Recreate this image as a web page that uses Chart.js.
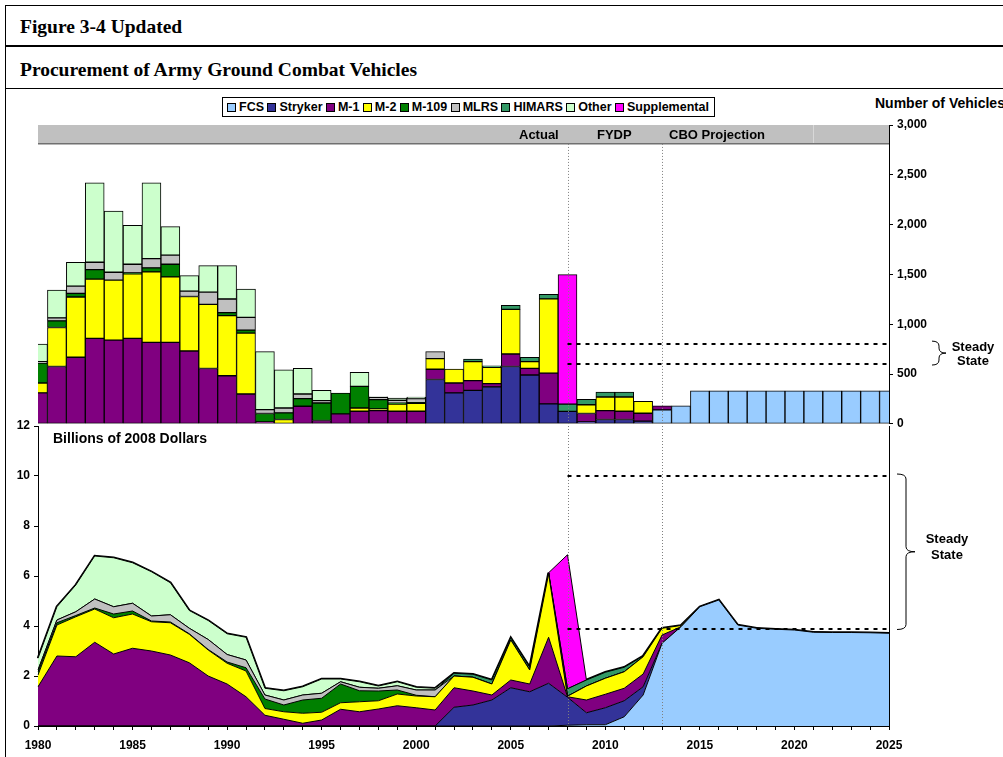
<!DOCTYPE html>
<html>
<head>
<meta charset="utf-8">
<script src="https://cdn.jsdelivr.net/npm/chart.js@4.4.0/dist/chart.umd.min.js"></script>
<style>
  body { margin: 0; width: 1003px; height: 757px; overflow: hidden; background: #fff;
         position: relative; font-family: "Liberation Sans", Arial, sans-serif; color: #000; }
  .abs { position: absolute; }
  .serif { font-family: "Liberation Serif", "Times New Roman", serif; font-weight: bold; font-size: 19.5px; line-height: 20px; white-space: nowrap; }
  .lbl { font-weight: bold; font-size: 13px; line-height: 14px; white-space: nowrap; }
  .ctr { transform: translateX(-50%); text-align: center; }
  canvas { position: absolute; left: 0; }
  #legend { position: absolute; left: 222px; top: 97px; width: 493px; height: 20px; box-sizing: border-box;
            border: 1px solid #000; display: flex; align-items: center; justify-content: space-between;
            padding: 0 5px 0 4px; font-weight: bold; font-size: 12.5px; white-space: nowrap; z-index: 3; background: #fff; }
  #legend span { display: flex; align-items: center; }
  #legend i { display: inline-block; width: 7px; height: 7px; border: 1px solid #000; margin-right: 3px; }
</style>
</head>
<body>
<!-- frame -->
<div class="abs" style="left:5px;top:5px;width:1px;height:752px;background:#000"></div>
<div class="abs" style="left:5px;top:5px;width:998px;height:1px;background:#000"></div>
<div class="abs" style="left:5px;top:45px;width:998px;height:2px;background:#000"></div>
<div class="abs" style="left:5px;top:88px;width:998px;height:1px;background:#000"></div>
<div class="abs serif" style="left:20px;top:17px">Figure 3-4 Updated</div>
<div class="abs serif" style="left:20px;top:60px">Procurement of Army Ground Combat Vehicles</div>

<div id="legend"></div>
<div class="abs lbl" style="left:875px;top:96px;font-size:14px;line-height:15px">Number of Vehicles</div>

<canvas id="top" width="1003" height="345" style="top:90px"></canvas>
<canvas id="bottom" width="1003" height="357" style="top:400px"></canvas>

<div class="abs lbl" style="left:519px;top:128px;z-index:2">Actual</div>
<div class="abs lbl" style="left:597px;top:128px;z-index:2">FYDP</div>
<div class="abs lbl" style="left:669px;top:128px;z-index:2">CBO Projection</div>
<div class="abs lbl" style="left:53px;top:431px;font-size:14px;z-index:2">Billions of 2008 Dollars</div>
<div class="abs lbl ctr" style="left:973px;top:340px;z-index:2">Steady<br>State</div>
<div class="abs lbl ctr" style="left:947px;top:531px;line-height:16px;z-index:2">Steady<br>State</div>

<script>
// categories
const years = [];
for (let y = 1980; y <= 2025; y++) years.push(y);

const seriesNames = ['FCS', 'Stryker', 'M-1', 'M-2', 'M-109', 'MLRS', 'HIMARS', 'Other', 'Supplemental'];
const seriesColors = ['#99CCFF', '#333399', '#800080', '#FFFF00', '#008000', '#C0C0C0', '#339966', '#CCFFCC', '#FF00FF'];

// number of vehicles, 1980-2025
const vehFCS = [0,0,0,0,0,0,0,0,0,0, 0,0,0,0,0,0,0,0,0,0, 0,0,0,0,0,0,0,0,0,0, 0,0,0,140,180,330,330,330,330,330, 330,330,330,330,330,330];
const vehStryker = [0,0,0,0,0,0,0,0,0,0, 0,0,0,0,0,0,0,0,0,0, 0,445,310,335,370,575,490,200,125,20, 43,43,27,0,0,0,0,0,0,0, 0,0,0,0,0,0];
const vehM1 = [310,575,668,857,840,857,817,817,731,555, 482,299,20,0,176,33,100,126,133,126, 126,103,100,99,33,126,67,309,0,83, 90,83,79,40,0,0,0,0,0,0, 0,0,0,0,0,0];
const vehM2 = [100,392,605,595,602,648,708,658,547,644, 604,611,0,43,0,0,0,33,17,73, 80,106,139,190,163,448,67,745,0,88, 136,143,120,0,0,0,0,0,0,0, 0,0,0,0,0,0];
const vehM109 = [200,66,36,96,0,10,40,127,0,0, 30,30,83,67,76,176,209,217,93,7, 5,0,0,0,0,0,0,0,0,0, 0,0,0,0,0,0,0,0,0,0, 0,0,0,0,0,0];
const vehMLRS = [15,30,73,74,80,87,93,92,54,123, 137,129,40,49,47,23,0,0,23,30, 41,70,0,0,0,0,0,0,0,0, 0,0,0,0,0,0,0,0,0,0, 0,0,0,0,0,0];
const vehHIMARS = [0,0,0,0,0,0,0,0,0,0, 0,0,0,0,0,0,0,0,0,0, 0,0,0,26,16,40,43,46,73,55, 50,50,0,0,0,0,0,0,0,0, 0,0,0,0,0,0];
const vehOther = [175,280,240,797,614,391,761,286,156,266, 335,283,581,382,259,104,0,142,5,23, 17,0,0,0,0,0,0,0,0,0, 0,0,0,0,0,0,0,0,0,0, 0,0,0,0,0,0];
const vehSupplemental = [0,0,0,0,0,0,0,0,0,0, 0,0,0,0,0,0,0,0,0,0, 0,0,0,0,0,0,0,0,1300,0, 0,0,0,0,0,0,0,0,0,0, 0,0,0,0,0,0];

// billions of 2008 dollars, 1980-2025
const usdFCS = [0,0,0,0,0,0,0,0,0,0, 0,0,0,0,0,0,0,0,0,0, 0,0,0,0,0,0,0,0,0.03,0.05, 0.05,0.37,1.24,3.31,3.97,4.77,5.04,4.04,3.91,3.87, 3.84,3.75,3.74,3.74,3.73,3.71];
const usdStryker = [0,0,0,0,0,0,0,0,0,0, 0,0,0,0,0,0,0,0,0,0, 0,0,0.75,0.84,1.04,1.53,1.37,1.71,1.12,0.48, 0.68,0.64,0.33,0,0,0,0,0,0,0, 0,0,0,0,0,0];
const usdM1 = [1.57,2.8,2.77,3.35,2.88,3.11,3.0,2.84,2.53,2.0, 1.68,1.17,0.43,0.27,0.11,0.24,0.67,0.57,0.68,0.81, 0.73,0.64,0.78,0.56,0.2,0.31,0.31,1.84,0.02,0.51, 0.54,0.5,0.51,0.33,0,0,0,0,0,0, 0,0,0,0,0,0];
const usdM2 = [0.47,1.24,1.6,1.33,1.45,1.37,1.17,1.29,1.14,1.04, 0.83,1.03,0.27,0.3,0.4,0.31,0.26,0.4,0.33,0.47, 0.47,0.53,0.47,0.55,0.44,1.6,0.56,2.53,0.02,0.56, 0.64,0.66,0.69,0.27,0.05,0,0,0,0,0, 0,0,0,0,0,0];
const usdM109 = [0.13,0.09,0.05,0.04,0.15,0.12,0.03,0.03,0.02,0.02, 0.05,0.13,0.38,0.27,0.53,0.56,0.75,0.44,0.39,0.16, 0.03,0,0,0,0,0,0,0,0,0, 0,0,0,0,0,0,0,0,0,0, 0,0,0,0,0,0];
const usdMLRS = [0.07,0.11,0.15,0.36,0.29,0.31,0.2,0.29,0.22,0.4, 0.3,0.31,0.16,0.2,0.2,0.2,0.09,0.14,0.11,0.17, 0.21,0.27,0,0,0,0,0,0,0,0, 0,0,0,0,0,0,0,0,0,0, 0,0,0,0,0,0];
const usdHIMARS = [0,0,0,0,0,0,0,0,0,0, 0,0,0,0,0,0,0,0,0,0, 0,0,0.11,0.12,0.16,0.09,0.11,0.05,0.3,0.24, 0.24,0.18,0.03,0,0,0,0,0,0,0, 0,0,0,0,0,0];
const usdOther = [0.47,0.53,1.07,1.72,1.96,1.62,1.77,1.28,0.71,0.76, 0.83,0.91,0.27,0.37,0.33,0.57,0.11,0.22,0.09,0.16, 0.11,0.07,0,0,0,0,0,0,0,0, 0,0,0,0,0,0,0,0,0,0, 0,0,0,0,0,0];
const usdSupplemental = [0,0,0,0,0,0,0,0,0,0, 0,0,0,0,0,0,0,0,0,0, 0,0,0,0,0,0,0,0,5.36,0, 0,0,0,0,0,0,0,0,0,0, 0,0,0,0,0,0];

const phaseYears = [2008, 2013];     // Actual | FYDP | CBO Projection
const bandDividerYear = 2021;
const steadyVehicles = [600, 800];
const steadyDollars = [3.9, 10];

const vehSeries = [vehFCS, vehStryker, vehM1, vehM2, vehM109, vehMLRS, vehHIMARS, vehOther, vehSupplemental];
const usdSeries = [usdFCS, usdStryker, usdM1, usdM2, usdM109, usdMLRS, usdHIMARS, usdOther, usdSupplemental];

// legend
const legendBox = document.getElementById('legend');
seriesNames.forEach((n, i) => {
  const s = document.createElement('span');
  s.innerHTML = '<i style="background:' + seriesColors[i] + '"></i>' + n;
  legendBox.appendChild(s);
});

const tickFont = { family: '"Liberation Sans", Arial, sans-serif', size: 12, weight: 'bold' };

function drawBrace(ctx, x, y1, y2, w) {
  const ym = (y1 + y2) / 2, xs = x + w / 2, r = Math.min(5, (y2 - y1) / 4);
  ctx.beginPath();
  ctx.moveTo(x, y1);
  ctx.quadraticCurveTo(xs, y1, xs, y1 + r);
  ctx.lineTo(xs, ym - r);
  ctx.quadraticCurveTo(xs, ym, x + w, ym);
  ctx.quadraticCurveTo(xs, ym, xs, ym + r);
  ctx.lineTo(xs, y2 - r);
  ctx.quadraticCurveTo(xs, y2, x, y2);
  ctx.stroke();
}

const annotate = {
  id: 'annotate',
  beforeDatasetsDraw(chart, args, opts) {
    if (!opts.band) return;
    const { ctx, chartArea: a, scales: { x, y } } = chart;
    const yb = Math.round(y.getPixelForValue(opts.band));
    ctx.save();
    ctx.fillStyle = '#C0C0C0';
    ctx.fillRect(a.left, a.top, a.right - a.left, yb - a.top);
    ctx.fillStyle = '#707070';
    ctx.fillRect(a.left, yb - 1, a.right - a.left, 1.5);
    const xd = Math.round(x.getPixelForValue(years.indexOf(bandDividerYear))) + 0.5;
    ctx.strokeStyle = '#D8D8D8';
    ctx.lineWidth = 1;
    ctx.beginPath(); ctx.moveTo(xd, a.top); ctx.lineTo(xd, yb - 1); ctx.stroke();
    ctx.restore();
  },
  afterDatasetsDraw(chart, args, opts) {
    const { ctx, chartArea: a, scales: { x, y } } = chart;
    ctx.save();
    if (opts.outline) {
      // redraw the top series line so the outer envelope sits above all fills
      ctx.save();
      ctx.beginPath();
      ctx.rect(a.left - 1, a.top - 2, a.right - a.left + 2, a.bottom - a.top + 2);
      ctx.clip();
      chart.getDatasetMeta(chart.data.datasets.length - 1).dataset.draw(ctx, a);
      ctx.restore();
    }
    const top = opts.band ? y.getPixelForValue(opts.band) : a.top;
    ctx.strokeStyle = '#808080';
    ctx.lineWidth = 1;
    ctx.setLineDash([1, 2]);
    phaseYears.forEach(yr => {
      const px = Math.round(x.getPixelForValue(years.indexOf(yr))) + 0.5;
      ctx.beginPath(); ctx.moveTo(px, top); ctx.lineTo(px, a.bottom); ctx.stroke();
    });
    // steady state levels
    const x0 = x.getPixelForValue(years.indexOf(phaseYears[0]));
    ctx.strokeStyle = '#000';
    ctx.lineWidth = 2;
    ctx.setLineDash([4, 5]);
    opts.steady.forEach(v => {
      const py = Math.round(y.getPixelForValue(v));
      ctx.beginPath(); ctx.moveTo(x0, py); ctx.lineTo(a.right, py); ctx.stroke();
    });
    ctx.setLineDash([]);
    ctx.lineWidth = 1;
    const y1 = y.getPixelForValue(Math.max(...opts.steady)) - opts.braceExtra;
    const y2 = y.getPixelForValue(Math.min(...opts.steady)) + 1;
    drawBrace(ctx, a.right + opts.braceGap, y1, y2, opts.braceWidth);
    ctx.restore();
  }
};

// top: number of vehicles
new Chart(document.getElementById('top'), {
  type: 'bar',
  data: {
    labels: years.map(String),
    datasets: vehSeries.map((arr, i) => ({
      label: seriesNames[i],
      data: arr.map(v => v === 0 ? null : v),
      backgroundColor: seriesColors[i],
      borderColor: '#000',
      borderWidth: 1,
      borderSkipped: false,
      categoryPercentage: 1,
      barPercentage: 1
    }))
  },
  options: {
    responsive: false,
    animation: false,
    devicePixelRatio: 1,
    layout: { padding: { left: 38, top: 35, bottom: 9, right: 0 } },
    plugins: {
      legend: { display: false },
      tooltip: { enabled: false },
      annotate: { band: 2810, steady: steadyVehicles, braceGap: 43, braceWidth: 14, braceExtra: 3 }
    },
    scales: {
      x: { stacked: true, display: false, offset: false },
      y: {
        stacked: true,
        position: 'right',
        min: 0, max: 3000,
        afterFit: s => { s.width = 114; },
        ticks: { stepSize: 500, color: '#000', font: tickFont, padding: 4,
                 callback: v => v.toLocaleString('en-US') },
        grid: { drawOnChartArea: false, tickLength: 4, color: '#000' },
        border: { color: '#000', width: 1 }
      }
    }
  },
  plugins: [annotate]
});

// bottom: billions of 2008 dollars
const supIdx = years.indexOf(2008);
new Chart(document.getElementById('bottom'), {
  type: 'line',
  data: {
    labels: years.map(String),
    datasets: usdSeries.map((arr, i) => {
      const isTop = i === usdSeries.length - 1;
      return {
        label: seriesNames[i],
        data: arr,
        backgroundColor: seriesColors[i],
        borderColor: '#000',
        borderWidth: isTop ? 2.5 : 1,
        segment: isTop ? { borderWidth: c => (c.p0DataIndex === supIdx - 1 || c.p0DataIndex === supIdx) ? 1 : undefined } : {},
        pointRadius: 0,
        tension: 0,
        fill: i === 0 ? 'origin' : '-1'
      };
    })
  },
  options: {
    responsive: false,
    animation: false,
    devicePixelRatio: 1,
    layout: { padding: { left: 0, top: 26, bottom: 0, right: 0 } },
    plugins: {
      legend: { display: false },
      tooltip: { enabled: false },
      annotate: { steady: steadyDollars, braceGap: 8, braceWidth: 18, braceExtra: 2, outline: true }
    },
    scales: {
      x: {
        offset: false,
        afterFit: s => { s.height = 31; },
        ticks: { autoSkip: false, maxRotation: 0, color: '#000', font: tickFont, padding: 8,
                 callback: (v, i) => years[i] % 5 === 0 ? String(years[i]) : '' },
        grid: { drawOnChartArea: false, tickLength: 4, color: '#000' },
        border: { color: '#000', width: 1 }
      },
      y: {
        stacked: true,
        min: 0, max: 12,
        afterFit: s => { s.width = 38; },
        ticks: { stepSize: 2, color: '#000', font: tickFont, padding: 4 },
        grid: { drawOnChartArea: false, tickLength: 4, color: '#000' },
        border: { color: '#000', width: 1 }
      },
      y2: {
        position: 'right',
        min: 0, max: 12,
        afterFit: s => { s.width = 114; },
        ticks: { display: false },
        grid: { display: false },
        border: { color: '#000', width: 1 }
      }
    }
  },
  plugins: [annotate]
});
</script>
</body>
</html>
